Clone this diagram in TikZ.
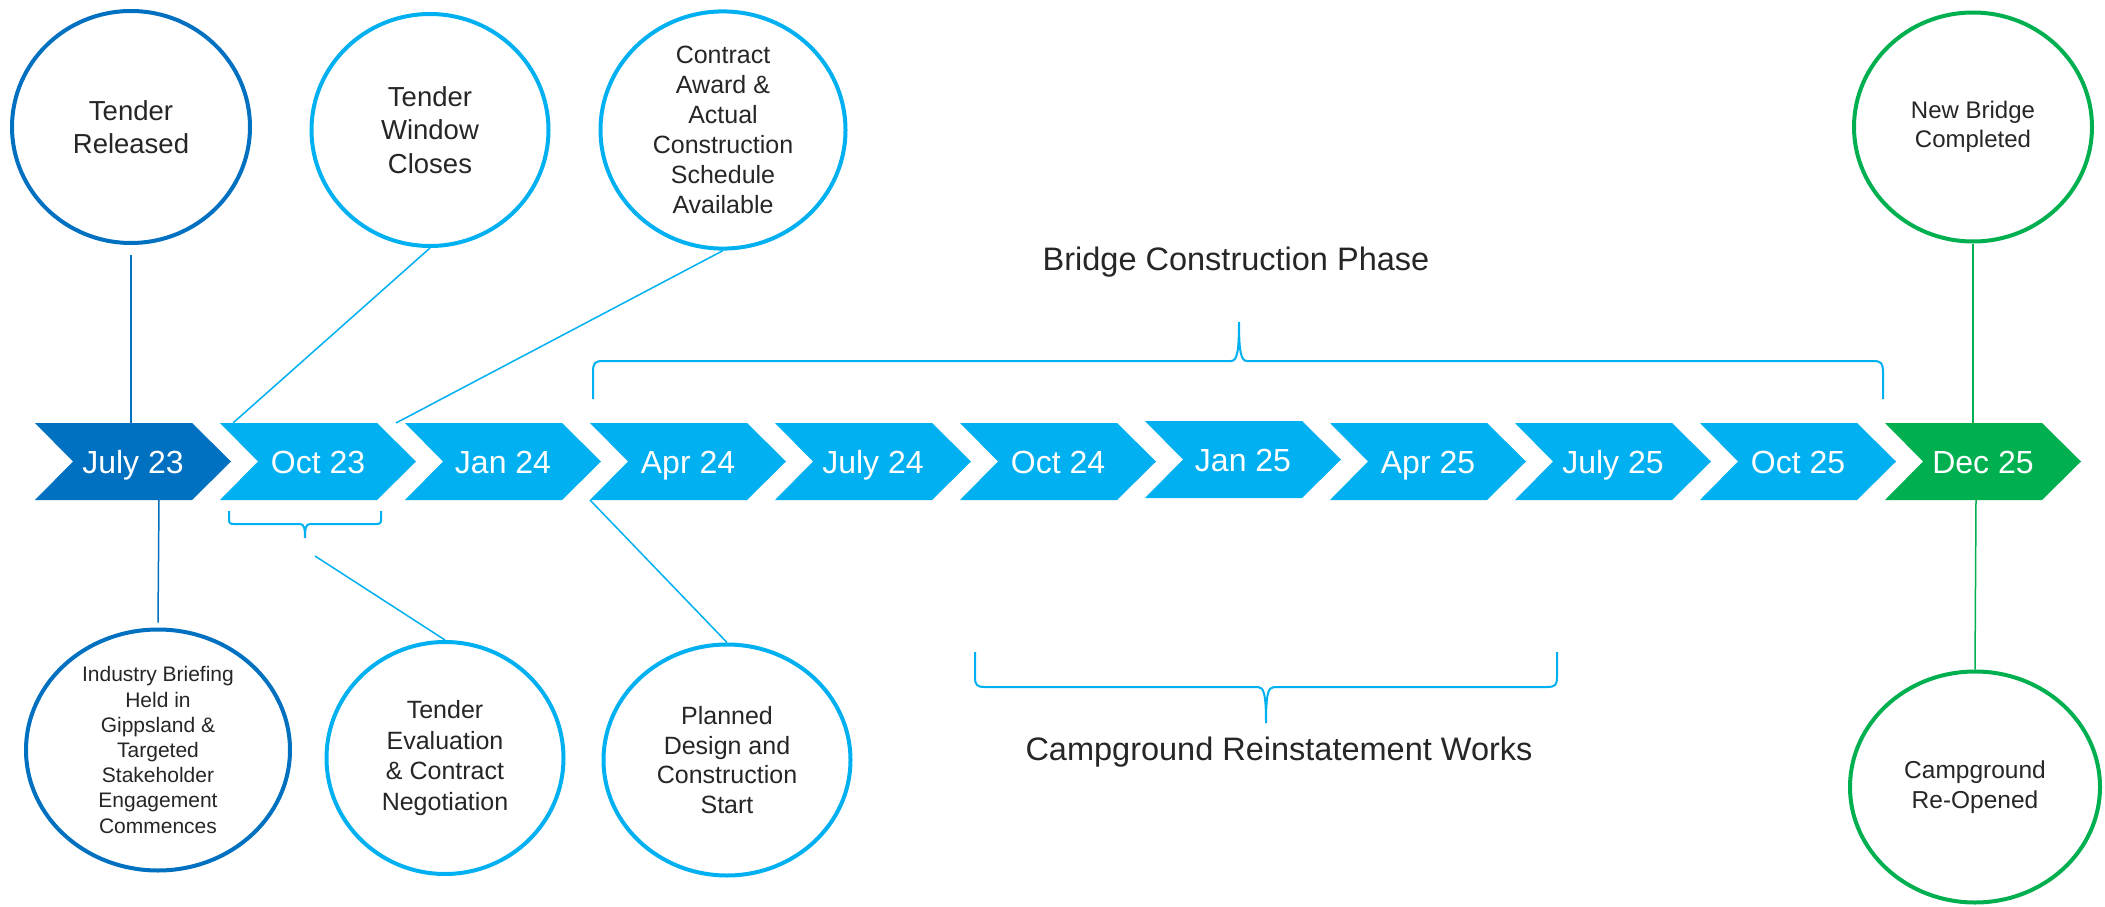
\documentclass[tikz,border=0pt]{standalone}
\usepackage{fontspec}
\setmainfont{Liberation Sans}
\usetikzlibrary{shapes.geometric}
\definecolor{dblue}{HTML}{0070C0}
\definecolor{lblue}{HTML}{00B0F0}
\definecolor{grn}{HTML}{00B050}
\definecolor{txt}{HTML}{262626}
\begin{document}
\begin{tikzpicture}[x=1pt,y=-1pt,
  chevtext/.style={text=white, font=\fontsize{32}{38}\selectfont, inner sep=0pt, anchor=base},
  circ/.style={ellipse, draw, line width=4pt, inner sep=0pt, align=center, text=txt},
  conn/.style={line width=1.5pt},
  brace/.style={lblue, line width=2pt},
  phase/.style={text=txt, font=\fontsize{32.5}{39}\selectfont, inner sep=0pt}]
\useasboundingbox (0,0) rectangle (2105,907);
\fill[white] (0,0) rectangle (2105,907);

% chevrons
\foreach \i/\lab/\col/\dy in {0/July 23/dblue/0, 1/Oct 23/lblue/0, 2/Jan 24/lblue/0, 3/Apr 24/lblue/0, 4/July 24/lblue/0, 5/Oct 24/lblue/0, 6/Jan 25/lblue/-2, 7/Apr 25/lblue/0, 8/July 25/lblue/0, 9/Oct 25/lblue/0, 10/Dec 25/grn/0} {
  \pgfmathsetmacro\L{35+185*\i}
  \pgfmathsetmacro\T{423+\dy}
  \fill[\col] (\L,\T) -- ++(157,0) -- ++(39,38.5) -- ++(-39,38.5) -- ++(-157,0) -- ++(38,-38.5) -- cycle;
  \node[chevtext] (ch\i) at (\L+98,\T+50) {\lab};
}

% milestone circles
\node[circ, draw=dblue, minimum width=238pt, minimum height=232pt, font=\fontsize{27.5}{33}\selectfont] (TR) at (131,127) {Tender\\Released};
\node[circ, draw=lblue, minimum width=237pt, minimum height=232pt, font=\fontsize{27.5}{33.5}\selectfont] (TW) at (430,130) {Tender\\Window\\Closes};
\node[circ, draw=lblue, minimum width=245pt, minimum height=232pt, font=\fontsize{25}{30}\selectfont] (CA) at (723,130) {Contract\\Award \&\\Actual\\Construction\\Schedule\\Available};
\node[circ, draw=dblue, minimum width=264pt, minimum height=241pt, font=\fontsize{21}{25.2}\selectfont] (IB) at (158,750) {Industry Briefing\\Held in\\Gippsland \&\\Targeted\\Stakeholder\\Engagement\\Commences};
\node[circ, draw=lblue, minimum width=237pt, minimum height=232pt, font=\fontsize{25}{30.5}\selectfont] (TE) at (445,758) {Tender\\Evaluation\\\& Contract\\Negotiation};
\node[circ, draw=lblue, minimum width=247pt, minimum height=231pt, font=\fontsize{25}{29.7}\selectfont] (PD) at (727,760) {Planned\\Design and\\Construction\\Start};
\node[circ, draw=grn, minimum width=238pt, minimum height=229pt, font=\fontsize{24}{29}\selectfont] (NB) at (1973,127) {New Bridge\\Completed};
\node[circ, draw=grn, minimum width=250pt, minimum height=231pt, font=\fontsize{24.5}{30}\selectfont] (CR) at (1975,787) {Campground\\Re-Opened};

% connector end points on the chevrons
\coordinate (p0t) at (131,423);
\coordinate (p0b) at (159,500);
\coordinate (p1t) at (233,423);
\coordinate (p2t) at (396,423);
\coordinate (p3b) at (590,500);
\coordinate (p10t) at (1973,423);
\coordinate (p10b) at (1976,500);
\coordinate (octbr) at (315,556);

\draw[conn, dblue] ([yshift=-10pt]TR.south) -- (p0t);
\draw[conn, dblue] (p0b) -- ([yshift=5pt]IB.north);
\draw[conn, lblue] (TW.south) -- (p1t);
\draw[conn, lblue] (CA.south) -- (p2t);
\draw[conn, lblue] (octbr) -- (TE.north);
\draw[conn, lblue] (p3b) -- (PD.north);
\draw[conn, grn] (NB.south) -- (p10t);
\draw[conn, grn] (p10b) -- (CR.north);

% braces
\draw[brace] (229,511) -- (229,519) .. controls (229,523) and (230,524) .. (234,524) -- (300,524)
  .. controls (304,524) and (305,528) .. (305,538)
  .. controls (305,528) and (306,524) .. (310,524) -- (376,524)
  .. controls (380,524) and (381,523) .. (381,519) -- (381,511);

\draw[brace] (593,399) -- (593,372) .. controls (593,363) and (595,361) .. (603,361) -- (1231,361)
  .. controls (1237,361) and (1239,352) .. (1239,322)
  .. controls (1239,352) and (1241,361) .. (1247,361) -- (1873,361)
  .. controls (1881,361) and (1883,363) .. (1883,372) -- (1883,399);

\draw[brace] (975,652) -- (975,677) .. controls (975,685) and (977,687) .. (985,687) -- (1258,687)
  .. controls (1264,687) and (1266,695) .. (1266,723)
  .. controls (1266,695) and (1268,687) .. (1274,687) -- (1547,687)
  .. controls (1555,687) and (1557,685) .. (1557,677) -- (1557,652);

\node[phase] (bcp) at (1236,262) {Bridge Construction Phase};
\node[phase] (crw) at (1279,752) {Campground Reinstatement Works};
\end{tikzpicture}
\end{document}
